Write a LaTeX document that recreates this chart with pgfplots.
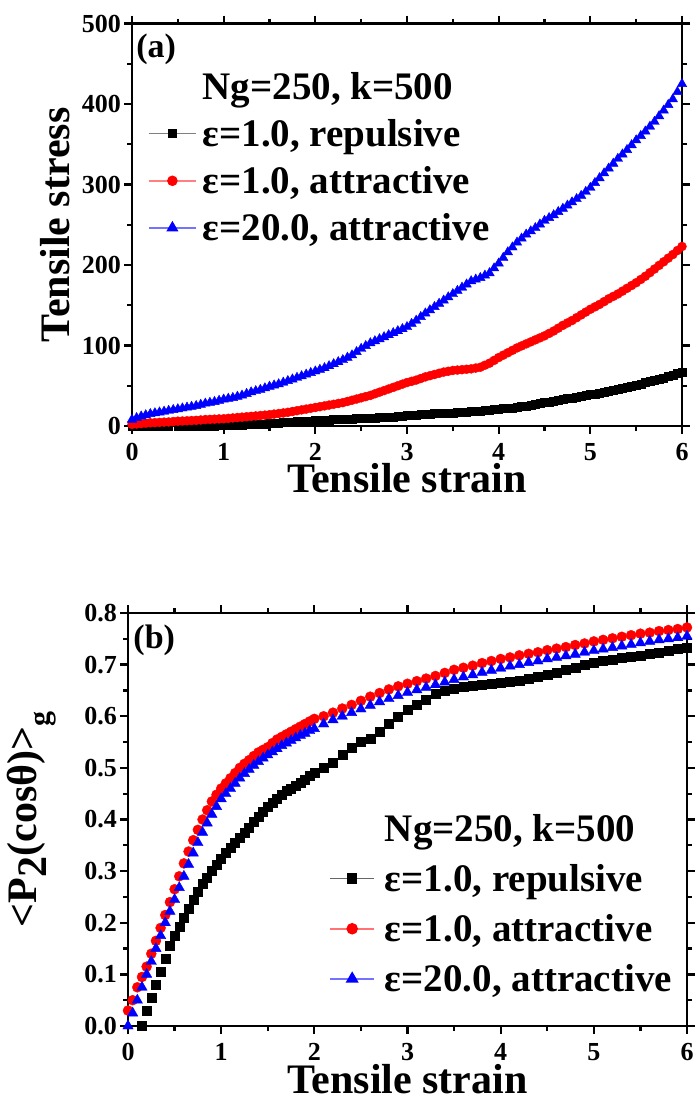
\documentclass[border=0pt]{standalone}
\usepackage{fontspec}
\setmainfont{Liberation Serif}
\usepackage{pgfplots}
\pgfplotsset{compat=1.18}
\pgfplotsset{
  myaxis/.style={
    scale only axis, xmin=0, xmax=6, xtick={0,1,2,3,4,5,6},
    minor x tick num=1, minor y tick num=1,
    tick align=outside, major tick length=8pt, minor tick length=5pt,
    axis line style={line width=2.3pt},
    tick style={line width=2.3pt, black},
    tick label style={font=\fontsize{26}{26}\selectfont\bfseries, inner sep=1pt},
    xticklabel style={yshift=-8pt},
    yticklabel style={xshift=-2pt},
    /pgf/number format/assume math mode=true,
    label style={font=\fontsize{42}{42}\selectfont\bfseries},
    clip=false,
    legend cell align=left,
    legend image code/.code={\draw[mark repeat=2,mark phase=2,#1] plot coordinates {(0pt,0pt) (23.5pt,0pt) (47pt,0pt)};},
  },
  sq/.style={black, only marks, mark=square*, mark size=4pt, mark options={solid, fill=black}},
  ci/.style={red, only marks, mark=*, mark size=4.5pt, mark options={solid, fill=red}},
  tr/.style={blue, only marks, mark=triangle*, mark size=5.5pt, mark options={solid, fill=blue}},
}
\begin{document}
\begin{tikzpicture}
\useasboundingbox (0pt,0pt) rectangle (694pt,-1102pt);
% ---------------- (a) ----------------
\begin{axis}[myaxis,
  at={(132pt,-426pt)}, anchor=south west,
  width=550pt, height=402.5pt,
  ymin=0, ymax=500, ytick={0,100,200,300,400,500},
  xlabel={Tensile strain}, ylabel={Tensile stress},
  xlabel style={at={(axis description cs:0.5,-0.13)}, anchor=center},
  ylabel style={at={(axis description cs:-0.14,0.5)}, anchor=center},
  legend style={draw=none, fill=none, at={(axis description cs:0.029,0.879)}, anchor=north west,
    font=\fontsize{39}{39}\selectfont\bfseries, row sep=18.5pt, column sep=6pt, inner sep=0pt,
    nodes={inner sep=0pt}},
]
\addplot[sq, forget plot] coordinates {
(0,0) (0.1,0) (0.2,0) (0.3,0) (0.4,0) (0.5,0) (0.6,0) (0.7,0) (0.8,0) (0.9,0)
(1.0,0.5) (1.1,1) (1.2,1.5) (1.3,2) (1.4,2.5) (1.5,3) (1.6,4) (1.7,5) (1.8,5.5) (1.9,6)
(2.0,7) (2.1,7.5) (2.2,8) (2.3,8.5) (2.4,9) (2.5,9.5) (2.6,10) (2.7,10.5) (2.8,11) (2.9,12)
(3.0,13) (3.1,14) (3.2,15) (3.3,15.5) (3.4,16) (3.5,16.5) (3.6,17) (3.7,18) (3.8,19) (3.9,20)
(4.0,21) (4.1,22) (4.2,23) (4.3,25) (4.4,27) (4.5,29) (4.6,31) (4.7,33) (4.8,35) (4.9,37)
(5.0,39) (5.1,41) (5.2,43) (5.3,46) (5.4,48) (5.5,51) (5.6,54) (5.7,57) (5.8,60) (5.9,63) (6.0,67)
(1.05,0.7) (1.15,1.2) (1.25,1.7) (1.35,2.2) (1.45,2.7) (1.55,3.5) (1.65,4.5) (1.75,5.2) (1.85,5.8) (1.95,6.5)
(2.05,7.2) (2.15,7.8) (2.25,8.2) (2.35,8.8) (2.45,9.2) (2.55,9.8) (2.65,10.2) (2.75,10.8) (2.85,11.5) (2.95,12.5)
(3.05,13.5) (3.15,14.5) (3.25,15.2) (3.35,15.8) (3.45,16.2) (3.55,16.8) (3.65,17.5) (3.75,18.5) (3.85,19.5) (3.95,20.5)
(4.05,21.5) (4.15,22.5) (4.25,24) (4.35,26) (4.45,28) (4.55,30) (4.65,32) (4.75,34) (4.85,36) (4.95,38)
(5.05,40) (5.15,42) (5.25,44.5) (5.35,47) (5.45,49.5) (5.55,52.5) (5.65,55.5) (5.75,58.5) (5.85,61.5) (5.95,65)
};
\addplot[ci, forget plot] coordinates {
(0,2) (0.1,3) (0.2,4) (0.3,4.5) (0.4,5) (0.5,6) (0.6,6.5) (0.7,7) (0.8,8) (0.9,8.5)
(1.0,9) (1.1,10) (1.2,11) (1.3,12) (1.4,13) (1.5,14) (1.6,15.5) (1.7,17) (1.8,19) (1.9,21)
(2.0,23) (2.1,25) (2.2,27) (2.3,29) (2.4,32) (2.5,35) (2.6,38) (2.7,42) (2.8,46) (2.9,50)
(3.0,54) (3.1,57) (3.2,61) (3.3,64) (3.4,67) (3.5,69) (3.6,70) (3.7,71) (3.8,73) (3.9,78)
(4.0,85) (4.1,91) (4.2,97) (4.3,102) (4.4,107) (4.5,112) (4.6,118) (4.7,125) (4.8,131) (4.9,138)
(5.0,145) (5.1,151) (5.2,158) (5.3,164) (5.4,171) (5.5,178) (5.6,186) (5.7,195) (5.8,204) (5.9,213) (6.0,223)
(0.05,2.5) (0.15,3.5) (0.25,4.2) (0.35,4.8) (0.45,5.5) (0.55,6.2) (0.65,6.8) (0.75,7.5) (0.85,8.2) (0.95,8.8)
(1.05,9.5) (1.15,10.5) (1.25,11.5) (1.35,12.5) (1.45,13.5) (1.55,14.8) (1.65,16.2) (1.75,18) (1.85,20) (1.95,22)
(2.05,24) (2.15,26) (2.25,28) (2.35,30.5) (2.45,33.5) (2.55,36.5) (2.65,40) (2.75,44) (2.85,48) (2.95,52)
(3.05,55.5) (3.15,59) (3.25,62.5) (3.35,65.5) (3.45,68) (3.55,69.5) (3.65,70.5) (3.75,72) (3.85,75.5) (3.95,81.5)
(4.05,88) (4.15,94) (4.25,99.5) (4.35,104.5) (4.45,109.5) (4.55,115) (4.65,121.5) (4.75,128) (4.85,134.5) (4.95,141.5)
(5.05,148) (5.15,154.5) (5.25,161) (5.35,167.5) (5.45,174.5) (5.55,182) (5.65,190.5) (5.75,199.5) (5.85,208.5) (5.95,218)
};
\addplot[tr, forget plot] coordinates {
(0,8) (0.1,12) (0.2,15) (0.3,17) (0.4,19) (0.5,21) (0.6,23) (0.7,25) (0.8,28) (0.9,30)
(1.0,33) (1.1,35) (1.2,38) (1.3,42) (1.4,45) (1.5,49) (1.6,52) (1.7,56) (1.8,60) (1.9,64)
(2.0,68) (2.1,72) (2.2,77) (2.3,82) (2.4,88) (2.5,96) (2.6,103) (2.7,108) (2.8,113) (2.9,118)
(3.0,123) (3.1,131) (3.2,140) (3.3,148) (3.4,156) (3.5,164) (3.6,172) (3.7,180) (3.8,184) (3.9,190)
(4.0,202) (4.1,216) (4.2,228) (4.3,238) (4.4,246) (4.5,255) (4.6,262) (4.7,270) (4.8,278) (4.9,286)
(5.0,296) (5.1,308) (5.2,320) (5.3,332) (5.4,343) (5.5,355) (5.6,366) (5.7,378) (5.8,392) (5.9,406) (6.0,425)
(0.05,10) (0.15,13.5) (0.25,16) (0.35,18) (0.45,20) (0.55,22) (0.65,24) (0.75,26.5) (0.85,29) (0.95,31.5)
(1.05,34) (1.15,36.5) (1.25,40) (1.35,43.5) (1.45,47) (1.55,50.5) (1.65,54) (1.75,58) (1.85,62) (1.95,66)
(2.05,70) (2.15,74.5) (2.25,79.5) (2.35,85) (2.45,92) (2.55,99.5) (2.65,105.5) (2.75,110.5) (2.85,115.5) (2.95,120.5)
(3.05,127) (3.15,135.5) (3.25,144) (3.35,152) (3.45,160) (3.55,168) (3.65,176) (3.75,182) (3.85,187) (3.95,196)
(4.05,209) (4.15,222) (4.25,233) (4.35,242) (4.45,250.5) (4.55,258.5) (4.65,266) (4.75,274) (4.85,282) (4.95,291)
(5.05,302) (5.15,314) (5.25,326) (5.35,337.5) (5.45,349) (5.55,360.5) (5.65,372) (5.75,385) (5.85,399) (5.95,415)
};
\addlegendimage{empty legend}
\addlegendentry{Ng=250, k=500}
\addlegendimage{color=black!50, line width=1.5pt, mark=square*, mark size=4pt, mark options={draw=black, fill=black}}
\addlegendentry{ε=1.0, repulsive}
\addlegendimage{color=red!50, line width=1.5pt, mark=*, mark size=4.5pt, mark options={draw=red, fill=red}}
\addlegendentry{ε=1.0, attractive}
\addlegendimage{color=blue!55, line width=1.5pt, mark=triangle*, mark size=5.5pt, mark options={draw=blue, fill=blue}}
\addlegendentry{ε=20.0, attractive}
\node[font=\fontsize{34}{34}\selectfont\bfseries] at (rel axis cs:0.044,0.937) {(a)};
\end{axis}
% ---------------- (b) ----------------
\begin{axis}[myaxis,
  at={(128pt,-1026pt)}, anchor=south west,
  width=559pt, height=413pt,
  ymin=0, ymax=0.8, ytick={0,0.1,0.2,0.3,0.4,0.5,0.6,0.7,0.8},
  yticklabel style={/pgf/number format/.cd, fixed, fixed zerofill, precision=1},
  xlabel={Tensile strain},
  ylabel={\textless P\raisebox{-0.22em}{2}(cosθ)\textgreater\raisebox{-0.3em}{\fontsize{30}{30}\selectfont g}},
  xlabel style={at={(axis description cs:0.5,-0.128)}, anchor=center},
  ylabel style={at={(axis description cs:-0.172,0.5)}, anchor=center},
  legend style={draw=none, fill=none, at={(axis description cs:0.36,0.513)}, anchor=north west,
    font=\fontsize{39}{39}\selectfont\bfseries, row sep=21.5pt, column sep=10pt, inner sep=0pt,
    nodes={inner sep=0pt}},
  legend image code/.code={\draw[mark repeat=2,mark phase=2,#1] plot coordinates {(0pt,0pt) (22pt,0pt) (44pt,0pt)};},
  sq/.append style={mark size=4.5pt},
  ci/.append style={mark size=5pt},
  tr/.append style={mark size=6pt},
]
\addplot[sq, forget plot] coordinates {
(0.15,0.0) (0.2,0.03) (0.25,0.055) (0.3,0.08) (0.35,0.105) (0.4,0.13) (0.45,0.155) (0.5,0.175)
(0.55,0.193) (0.6,0.21) (0.65,0.228) (0.7,0.245) (0.75,0.26) (0.8,0.275) (0.85,0.288) (0.9,0.30)
(0.95,0.313) (1.0,0.325) (1.05,0.335) (1.1,0.345) (1.15,0.355) (1.2,0.365) (1.25,0.375) (1.3,0.385)
(1.35,0.395) (1.4,0.405) (1.45,0.415) (1.5,0.425) (1.55,0.433) (1.6,0.44) (1.65,0.448) (1.7,0.455)
(1.75,0.46) (1.8,0.465) (1.85,0.472) (1.9,0.478) (1.95,0.484) (2.0,0.49) (2.1,0.50)
(2.2,0.51) (2.3,0.525) (2.4,0.54) (2.5,0.55) (2.6,0.556) (2.7,0.57) (2.8,0.585) (2.9,0.60)
(3.0,0.612) (3.1,0.622) (3.2,0.633) (3.3,0.643) (3.4,0.65) (3.5,0.654) (3.6,0.657) (3.7,0.66)
(3.8,0.662) (3.9,0.664) (4.0,0.665) (4.1,0.667) (4.2,0.669) (4.3,0.672) (4.4,0.676) (4.5,0.68)
(4.6,0.685) (4.7,0.69) (4.8,0.695) (4.9,0.699) (5.0,0.703) (5.1,0.707) (5.2,0.71) (5.3,0.713)
(5.4,0.716) (5.5,0.718) (5.6,0.721) (5.7,0.724) (5.8,0.727) (5.9,0.73) (6.0,0.733)
};
\addplot[ci, forget plot] coordinates {
(0,0.03) (0.05,0.05) (0.1,0.075) (0.15,0.095) (0.2,0.115) (0.25,0.14) (0.3,0.165) (0.35,0.19)
(0.4,0.215) (0.45,0.24) (0.5,0.265) (0.55,0.29) (0.6,0.315) (0.65,0.338) (0.7,0.36) (0.75,0.38)
(0.8,0.40) (0.85,0.418) (0.9,0.435) (0.95,0.448) (1.0,0.46) (1.05,0.47)
(1.1,0.48) (1.15,0.49) (1.2,0.50) (1.25,0.508) (1.3,0.515) (1.35,0.523) (1.4,0.53) (1.45,0.535)
(1.5,0.54) (1.55,0.548) (1.6,0.555) (1.65,0.56) (1.7,0.565) (1.75,0.57) (1.8,0.575) (1.85,0.58)
(1.9,0.585) (1.95,0.59) (2.0,0.595) (2.1,0.60) (2.2,0.607) (2.3,0.615) (2.4,0.622) (2.5,0.63) (2.6,0.638)
(2.7,0.645) (2.8,0.652) (2.9,0.658) (3.0,0.663) (3.1,0.668) (3.2,0.673) (3.3,0.678) (3.4,0.684)
(3.5,0.69) (3.6,0.694) (3.7,0.698) (3.8,0.703) (3.9,0.707) (4.0,0.711) (4.1,0.714) (4.2,0.718)
(4.3,0.721) (4.4,0.724) (4.5,0.728) (4.6,0.731) (4.7,0.734) (4.8,0.738) (4.9,0.741) (5.0,0.745)
(5.1,0.748) (5.2,0.751) (5.3,0.754) (5.4,0.757) (5.5,0.76) (5.6,0.762) (5.7,0.765) (5.8,0.767)
(5.9,0.769) (6.0,0.772)
};
\addplot[tr, forget plot] coordinates {
(0,0.0) (0.05,0.025) (0.1,0.05) (0.15,0.075) (0.2,0.10) (0.25,0.125) (0.3,0.15) (0.35,0.175)
(0.4,0.20) (0.45,0.222) (0.5,0.245) (0.55,0.268) (0.6,0.29) (0.65,0.313) (0.7,0.335) (0.75,0.355)
(0.8,0.375) (0.85,0.393) (0.9,0.41) (0.95,0.425) (1.0,0.44) (1.05,0.45)
(1.1,0.46) (1.15,0.47) (1.2,0.48) (1.25,0.489) (1.3,0.497) (1.35,0.505) (1.4,0.512) (1.45,0.519)
(1.5,0.525) (1.55,0.531) (1.6,0.537) (1.65,0.543) (1.7,0.548) (1.75,0.553) (1.8,0.558) (1.85,0.563)
(1.9,0.567) (1.95,0.572) (2.0,0.576) (2.1,0.585) (2.2,0.593) (2.3,0.60) (2.4,0.607) (2.5,0.614) (2.6,0.621)
(2.7,0.628) (2.8,0.634) (2.9,0.64) (3.0,0.646) (3.1,0.651) (3.2,0.656) (3.3,0.661) (3.4,0.666)
(3.5,0.671) (3.6,0.676) (3.7,0.68) (3.8,0.685) (3.9,0.689) (4.0,0.693) (4.1,0.697) (4.2,0.70)
(4.3,0.704) (4.4,0.707) (4.5,0.711) (4.6,0.714) (4.7,0.717) (4.8,0.72) (4.9,0.724) (5.0,0.727)
(5.1,0.73) (5.2,0.733) (5.3,0.736) (5.4,0.739) (5.5,0.742) (5.6,0.745) (5.7,0.748) (5.8,0.75)
(5.9,0.752) (6.0,0.755)
};
\addlegendimage{empty legend}
\addlegendentry{Ng=250, k=500}
\addlegendimage{color=black!60, line width=1.5pt, mark=square*, mark size=4.5pt, mark options={draw=black, fill=black}}
\addlegendentry{ε=1.0, repulsive}
\addlegendimage{color=red!55, line width=1.5pt, mark=*, mark size=5pt, mark options={draw=red, fill=red}}
\addlegendentry{ε=1.0, attractive}
\addlegendimage{color=blue!55, line width=1.5pt, mark=triangle*, mark size=6pt, mark options={draw=blue, fill=blue}}
\addlegendentry{ε=20.0, attractive}
\node[font=\fontsize{34}{34}\selectfont\bfseries] at (rel axis cs:0.047,0.935) {(b)};
\end{axis}
\end{tikzpicture}
\end{document}
